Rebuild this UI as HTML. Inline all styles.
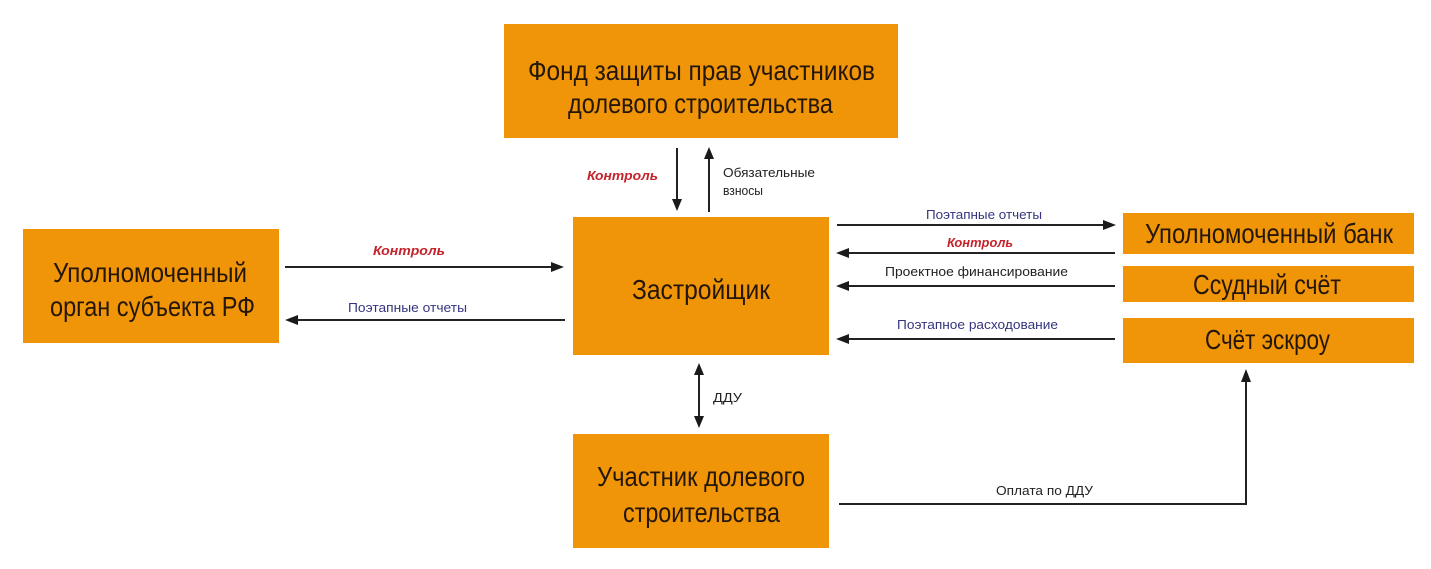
<!DOCTYPE html>
<html>
<head>
<meta charset="utf-8">
<style>
  html, body { margin: 0; padding: 0; background: #ffffff; }
  body { width: 1431px; height: 569px; overflow: hidden; }
  svg { display: block; }
  .box { fill: #F09408; }
  .bt { font-family: "Liberation Sans", "Noto Sans CJK SC", sans-serif; fill: #24170a; font-size: 28px; }
  .lb { font-family: "Liberation Sans", "Noto Sans CJK SC", sans-serif; font-size: 13px; }
  .red { fill: #c4232b; font-weight: bold; font-style: italic; }
  .blue { fill: #35357f; }
  .blk { fill: #222222; }
  .ln { stroke: #222222; stroke-width: 2; fill: none; }
  .ah { fill: #1a1a1a; }
</style>
</head>
<body>
<svg width="1431" height="569" viewBox="0 0 1431 569" xmlns="http://www.w3.org/2000/svg">
  <!-- Boxes -->
  <rect class="box" x="504" y="24" width="394" height="114"/>
  <rect class="box" x="23" y="229" width="256" height="114"/>
  <rect class="box" x="573" y="217" width="256" height="138"/>
  <rect class="box" x="573" y="434" width="256" height="114"/>
  <rect class="box" x="1123" y="213" width="291" height="41"/>
  <rect class="box" x="1123" y="266" width="291" height="36"/>
  <rect class="box" x="1123" y="318" width="291" height="45"/>

  <!-- Box texts -->
  <text class="bt" x="528" y="80" textLength="347" lengthAdjust="spacingAndGlyphs">Фонд защиты прав участников</text>
  <text class="bt" x="568" y="113" textLength="265" lengthAdjust="spacingAndGlyphs">долевого строительства</text>

  <text class="bt" x="53" y="282" textLength="194" lengthAdjust="spacingAndGlyphs">Уполномоченный</text>
  <text class="bt" x="50" y="316" textLength="205" lengthAdjust="spacingAndGlyphs">орган субъекта РФ</text>

  <text class="bt" x="632" y="299" textLength="138" lengthAdjust="spacingAndGlyphs">Застройщик</text>

  <text class="bt" x="597" y="486" textLength="208" lengthAdjust="spacingAndGlyphs">Участник долевого</text>
  <text class="bt" x="623" y="522" textLength="157" lengthAdjust="spacingAndGlyphs">строительства</text>

  <text class="bt" x="1145" y="243" textLength="248" lengthAdjust="spacingAndGlyphs">Уполномоченный банк</text>
  <text class="bt" x="1193" y="294" textLength="148" lengthAdjust="spacingAndGlyphs">Ссудный счёт</text>
  <text class="bt" x="1205" y="349" textLength="125" lengthAdjust="spacingAndGlyphs">Счёт эскроу</text>

  <!-- Top arrows -->
  <line class="ln" x1="677" y1="148" x2="677" y2="201"/>
  <polygon class="ah" points="672,199 682,199 677,211"/>
  <line class="ln" x1="709" y1="212" x2="709" y2="157"/>
  <polygon class="ah" points="704,159 714,159 709,147"/>
  <text class="lb red" x="587" y="180" textLength="71" lengthAdjust="spacingAndGlyphs">Контроль</text>
  <text class="lb blk" x="723" y="177" textLength="92" lengthAdjust="spacingAndGlyphs">Обязательные</text>
  <text class="lb blk" x="723" y="195" textLength="40" lengthAdjust="spacingAndGlyphs">взносы</text>

  <!-- Left arrows -->
  <line class="ln" x1="285" y1="267" x2="553" y2="267"/>
  <polygon class="ah" points="551,262 551,272 564,267"/>
  <text class="lb red" x="373" y="255" textLength="72" lengthAdjust="spacingAndGlyphs">Контроль</text>
  <line class="ln" x1="565" y1="320" x2="296" y2="320"/>
  <polygon class="ah" points="298,315 298,325 285,320"/>
  <text class="lb blue" x="348" y="312" textLength="119" lengthAdjust="spacingAndGlyphs">Поэтапные отчеты</text>

  <!-- Right arrows -->
  <line class="ln" x1="837" y1="225" x2="1105" y2="225"/>
  <polygon class="ah" points="1103,220 1103,230 1116,225"/>
  <text class="lb blue" x="926" y="219" textLength="116" lengthAdjust="spacingAndGlyphs">Поэтапные отчеты</text>

  <line class="ln" x1="1115" y1="253" x2="847" y2="253"/>
  <polygon class="ah" points="849,248 849,258 836,253"/>
  <text class="lb red" x="947" y="247" textLength="66" lengthAdjust="spacingAndGlyphs">Контроль</text>

  <line class="ln" x1="1115" y1="286" x2="847" y2="286"/>
  <polygon class="ah" points="849,281 849,291 836,286"/>
  <text class="lb blk" x="885" y="276" textLength="183" lengthAdjust="spacingAndGlyphs">Проектное финансирование</text>

  <line class="ln" x1="1115" y1="339" x2="847" y2="339"/>
  <polygon class="ah" points="849,334 849,344 836,339"/>
  <text class="lb blue" x="897" y="329" textLength="161" lengthAdjust="spacingAndGlyphs">Поэтапное расходование</text>

  <!-- DDU double arrow -->
  <line class="ln" x1="699" y1="373" x2="699" y2="418"/>
  <polygon class="ah" points="694,375 704,375 699,363"/>
  <polygon class="ah" points="694,416 704,416 699,428"/>
  <text class="lb blk" x="713" y="402" textLength="29" lengthAdjust="spacingAndGlyphs">ДДУ</text>

  <!-- Payment arrow -->
  <polyline class="ln" points="839,504 1246,504 1246,380"/>
  <polygon class="ah" points="1241,382 1251,382 1246,369"/>
  <text class="lb blk" x="996" y="495" textLength="97" lengthAdjust="spacingAndGlyphs">Оплата по ДДУ</text>
</svg>
</body>
</html>
